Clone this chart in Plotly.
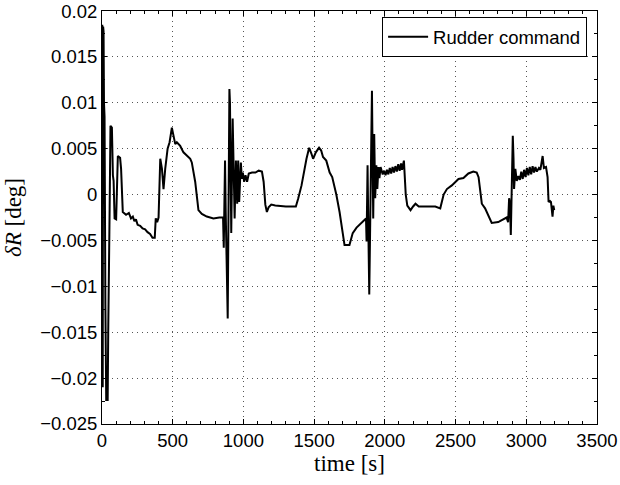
import plotly.graph_objects as go

time_s = [0, 2, 5, 8, 11, 14, 18, 24, 30, 35, 40, 44, 49, 54, 60, 70, 77, 82, 89, 100,
          112, 128, 135, 147, 170, 190, 205, 218, 229, 240, 252, 270, 287, 305, 322, 340,
          357, 373, 380, 390, 400, 412, 424, 435, 447, 464, 478, 494, 506, 518, 529, 553,
          576, 590, 600, 624, 635, 659, 682, 706, 741, 788, 830, 856, 861, 870, 875, 889,
          901, 905, 914, 924, 938, 947, 956, 963, 970, 982, 989, 996, 1005, 1015, 1026,
          1038, 1061, 1085, 1108, 1131, 1143, 1155, 1166, 1178, 1197, 1225, 1300, 1360,
          1371, 1388, 1411, 1446, 1465, 1480, 1493, 1512, 1535, 1550, 1563, 1586, 1610,
          1628, 1657, 1680, 1700, 1715, 1750, 1773, 1800, 1820, 1845, 1867, 1871, 1878,
          1882, 1890, 1909, 1913, 1918, 1925, 1932, 1940, 1947, 1955, 1962, 1970, 1978,
          1985, 1995, 2005, 2015, 2025, 2035, 2045, 2055, 2065, 2075, 2085, 2095, 2105,
          2115, 2122, 2135, 2142, 2148, 2159, 2182, 2200, 2217, 2240, 2300, 2357, 2392,
          2416, 2439, 2474, 2521, 2556, 2591, 2626, 2650, 2663, 2686, 2709, 2756, 2802,
          2861, 2872, 2879, 2885, 2891, 2895, 2905, 2910, 2914, 2923, 2933, 2945, 2955,
          2965, 2975, 2985, 2995, 3005, 3015, 3025, 3035, 3045, 3055, 3065, 3075, 3090,
          3100, 3116, 3125, 3140, 3151, 3158, 3168, 3175, 3186, 3192, 3198]

rudder_cmd = [0.0, 0.0185, -0.021, 0.0183, 0.0178, 0.0100, 0.0085, -0.012, -0.0225, -0.021,
              -0.0225, -0.015, -0.0026, -0.0015, 0.0075, 0.0073, 0.0021, 0.0015, -0.0026, -0.0027,
              0.0042, 0.0040, 0.0028, -0.0019, -0.0022, -0.0020, -0.0026, -0.0024, -0.0029, -0.0027,
              -0.0033, -0.0034, -0.0037, -0.0038, -0.0041, -0.0043, -0.0047, -0.0047, -0.0026, -0.0030,
              -0.0025, 0.0039, 0.0028, 0.0006, 0.0028, 0.0050, 0.0057, 0.0073, 0.0064, 0.0055,
              0.0057, 0.0053, 0.0046, 0.0044, 0.0042, 0.0039, 0.0035, 0.0014, -0.0017, -0.0021,
              -0.0024, -0.0026, -0.0025, -0.0025, -0.0058, 0.0037, -0.0020, -0.0135, 0.0115, 0.0100,
              -0.0042, 0.0083, -0.0026, 0.0037, -0.0010, 0.0037, -0.0008, 0.0035, 0.0017, 0.0024,
              0.0014, 0.0021, 0.0014, 0.0023, 0.0024, 0.0024, 0.0026, 0.0025, 0.0014, -0.0011,
              -0.0019, -0.0014, -0.0011, -0.0012, -0.0013, -0.0013, -0.0013, -0.0004, 0.0010, 0.0039,
              0.0051, 0.0045, 0.0039, 0.0046, 0.0051, 0.0048, 0.0041, 0.0037, 0.0024, 0.0019,
              0.0000, -0.0019, -0.0040, -0.0055, -0.0055, -0.0042, -0.0036, -0.0033, -0.0029, -0.0026,
              -0.0051, 0.0032, -0.0020, -0.0109, 0.0113, 0.0060, -0.0026, 0.0066, -0.0004, 0.0032,
              0.0006, 0.0030, 0.0018, 0.0030, 0.0024, 0.0022, 0.0026, 0.0021, 0.0027, 0.0022,
              0.0029, 0.0023, 0.0030, 0.0024, 0.0031, 0.0025, 0.0033, 0.0026, 0.0034, 0.0027,
              0.0037, 0.0010, 0.0000, -0.0012, -0.0017, -0.0013, -0.0010, -0.0013, -0.0013, -0.0013,
              -0.0015, 0.0000, 0.0006, 0.0010, 0.0017, 0.0018, 0.0023, 0.0025, 0.0024, 0.0019,
              -0.0010, -0.0015, -0.0031, -0.0030, -0.0025, -0.0030, -0.0004, -0.0010, -0.0044, -0.0003,
              0.0064, 0.0040, 0.0006, 0.0028, 0.0015, 0.0020, 0.0016, 0.0025, 0.0017, 0.0027,
              0.0019, 0.0029, 0.0021, 0.0030, 0.0022, 0.0031, 0.0024, 0.0030, 0.0025, 0.0029,
              0.0027, 0.0042, 0.0029, 0.0030, 0.0019, -0.0008, -0.0007, -0.0008, -0.0024, -0.0012,
              -0.0017]

x_tick_vals = [0, 500, 1000, 1500, 2000, 2500, 3000, 3500]
x_tick_text = ["0", "500", "1000", "1500", "2000", "2500", "3000", "3500"]
y_tick_vals = [0.02, 0.015, 0.01, 0.005, 0, -0.005, -0.01, -0.015, -0.02, -0.025]
y_tick_text = ["0.02", "0.015", "0.01", "0.005", "0", "\u22120.005", "\u22120.01",
               "\u22120.015", "\u22120.02", "\u22120.025"]

fig = go.Figure()
fig.add_trace(go.Scatter(x=time_s, y=rudder_cmd, mode="lines", name="Rudder command",
                         line=dict(color="black", width=2)))

tick_font = dict(family="Liberation Sans, Arial, sans-serif", size=18.5, color="black")
title_font = dict(family="Liberation Serif, Times New Roman, serif", size=23, color="black")

axis_common = dict(
    showline=True, linecolor="black", linewidth=1, mirror="ticks",
    ticks="inside", ticklen=5, tickcolor="black", tickwidth=1,
    showgrid=True, gridcolor="#555555", gridwidth=1, griddash="1px,4px",
    zeroline=False, tickfont=tick_font, automargin=False,
    ticklabeloverflow="allow",
)

fig.update_xaxes(range=[0, 3500.5], tickvals=x_tick_vals, ticktext=x_tick_text,
                 minor=dict(dtick=100, tick0=0, ticks="inside", ticklen=3, tickcolor="black",
                            showgrid=False),
                 title=dict(text="time [s]", font=title_font, standoff=0),
                 **axis_common)
fig.update_yaxes(range=[-0.025005, 0.020005], tickvals=y_tick_vals, ticktext=y_tick_text,
                 minor=dict(dtick=0.0025, tick0=0, ticks="inside", ticklen=3, tickcolor="black",
                            showgrid=False),
                 title=dict(text="<i>\u03b4R</i> [deg]", font=title_font, standoff=12),
                 **axis_common)

fig.update_layout(
    template="none",
    width=620, height=485,
    margin=dict(l=102, r=23, t=11, b=61),
    paper_bgcolor="white", plot_bgcolor="white",
    showlegend=True,
    legend=dict(x=0.98, y=0.985, xanchor="right", yanchor="top",
                bgcolor="white", bordercolor="black", borderwidth=1,
                font=dict(family="Liberation Sans, Arial, sans-serif", size=18.5, color="black"),
                itemwidth=40, tracegroupgap=0),
)

fig.write_html("out.html", config={"displayModeBar": False},
               post_script="document.body.style.margin='0';document.body.style.padding='0';")
